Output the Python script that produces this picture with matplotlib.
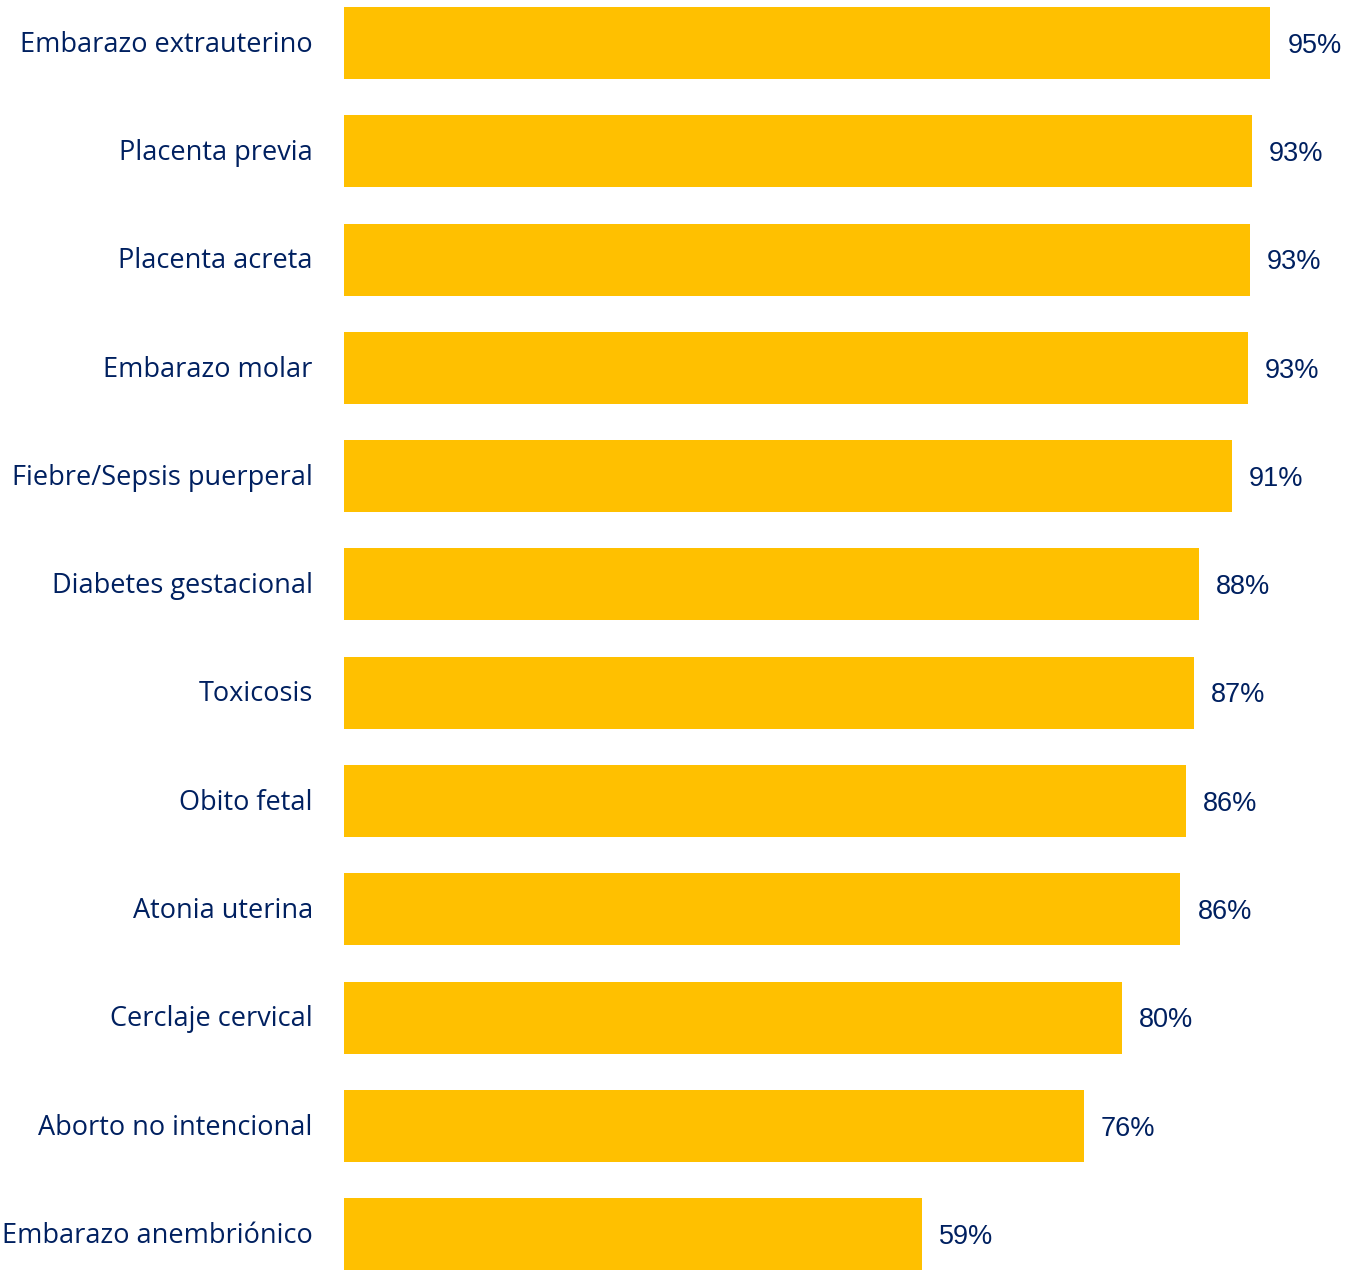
import matplotlib.pyplot as plt

# Complication categories, top to bottom
categories = [
    'Embarazo extrauterino', 'Placenta previa', 'Placenta acreta',
    'Embarazo molar', 'Fiebre/Sepsis puerperal', 'Diabetes gestacional',
    'Toxicosis', 'Obito fetal', 'Atonia uterina', 'Cerclaje cervical',
    'Aborto no intencional', 'Embarazo anembriónico',
]
# Share of cases (%)
values = [94.9, 93.0, 92.8, 92.6, 91.0, 87.6, 87.1, 86.3, 85.7, 79.7, 75.8, 59.2]

bar_color = '#FFC000'
text_color = '#002060'

fig = plt.figure(figsize=(13.54, 12.70), dpi=100)
ax = fig.add_axes([344 / 1354, 0, 976 / 1354, 1])

pos = list(range(len(categories)))
ax.barh(pos, values, height=0.665, color=bar_color)
ax.set_xlim(0, 100)
ax.set_ylim(11.33, -0.397)

for y, v, name in zip(pos, values, categories):
    ax.text(v + 1.75, y + 0.025, f'{v:.0f}%', va='center', ha='left',
            fontsize=19.5, family='Liberation Sans', color=text_color,
            clip_on=False)
    ax.text(-3.2, y + 0.015, name, va='center', ha='right', fontsize=19.5,
            family='Open Sans', color=text_color, clip_on=False)

ax.axis('off')
fig.savefig('out.png', dpi=100)
